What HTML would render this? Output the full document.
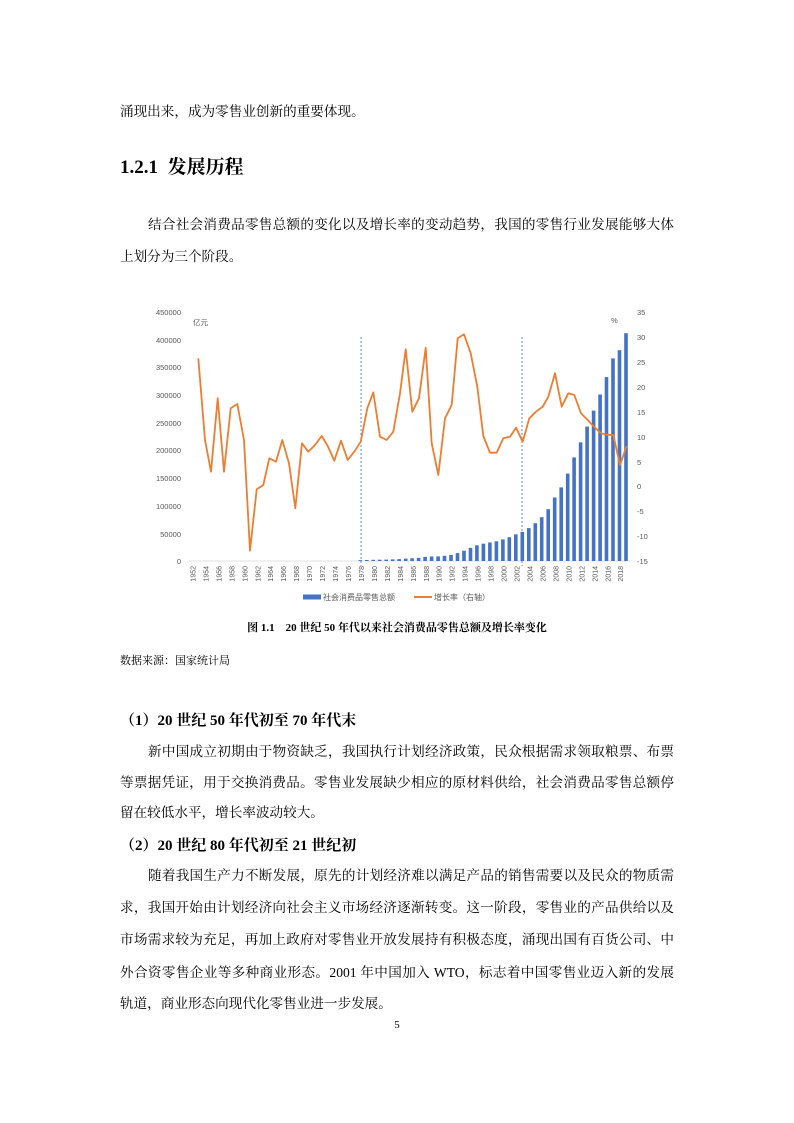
<!DOCTYPE html>
<html><head><meta charset="utf-8"><style>
body{margin:0;width:794px;height:1123px;background:#fff;position:relative;font-family:"Liberation Serif","Noto Serif CJK SC","Noto Sans CJK SC",serif;color:#000}
.l{position:absolute;left:120px;width:554px;font-size:13.6px;line-height:20px;white-space:nowrap}
.j{text-align:justify;text-align-last:justify}
.h{font-weight:bold}
</style></head><body>
<div class="l" style="top:102px">涌现出来，成为零售业创新的重要体现。</div>
<div class="l h" style="top:156px;font-size:19px;line-height:24px">1.2.1&nbsp; 发展历程</div>
<div class="l j" style="top:215px;padding-left:28px;width:526px">结合社会消费品零售总额的变化以及增长率的变动趋势，我国的零售行业发展能够大体</div>
<div class="l" style="top:247px">上划分为三个阶段。</div>

<svg style="position:absolute;left:0;top:0" width="794" height="620" font-family="Liberation Sans, Noto Sans CJK SC, sans-serif" font-size="7.5" fill="#595959">
<g text-anchor="end">
<text x="181" y="315">450000</text><text x="181" y="343">400000</text><text x="181" y="370">350000</text><text x="181" y="398">300000</text><text x="181" y="426">250000</text><text x="181" y="453">200000</text><text x="181" y="481">150000</text><text x="181" y="509">100000</text><text x="181" y="537">50000</text><text x="181" y="564">0</text>
</g>
<g text-anchor="start">
<text x="637" y="315">35</text><text x="637" y="340">30</text><text x="637" y="365">25</text><text x="637" y="390">20</text><text x="637" y="415">15</text><text x="637" y="440">10</text><text x="637" y="465">5</text><text x="637" y="489">0</text><text x="637" y="514">-5</text><text x="637" y="539">-10</text><text x="637" y="564">-15</text>
</g>
<text x="193" y="325">亿元</text><text x="611" y="323">%</text>
<line x1="189" y1="561" x2="630" y2="561" stroke="#d9d9d9" stroke-width="0.8"/>
<line x1="361" y1="337" x2="361" y2="566" stroke="#4472c4" stroke-width="0.8" stroke-dasharray="2,2"/>
<line x1="522" y1="337" x2="522" y2="566" stroke="#4472c4" stroke-width="0.8" stroke-dasharray="2,2"/>
<g fill="#4472c4">
<rect x="358.5" y="560.1" width="3.6" height="0.9"/><rect x="365.0" y="560" width="3.6" height="1"/><rect x="371.5" y="559.8" width="3.6" height="1.2"/><rect x="377.9" y="559.7" width="3.6" height="1.3"/><rect x="384.4" y="559.6" width="3.6" height="1.4"/><rect x="390.9" y="559.4" width="3.6" height="1.6"/><rect x="397.4" y="559.1" width="3.6" height="1.9"/><rect x="403.9" y="558.6" width="3.6" height="2.4"/><rect x="410.3" y="558.3" width="3.6" height="2.7"/><rect x="416.8" y="557.8" width="3.6" height="3.2"/><rect x="423.3" y="556.9" width="3.6" height="4.1"/><rect x="429.8" y="556.5" width="3.6" height="4.5"/><rect x="436.3" y="556.4" width="3.6" height="4.6"/><rect x="442.7" y="555.8" width="3.6" height="5.2"/><rect x="449.2" y="554.9" width="3.6" height="6.1"/><rect x="455.7" y="553.1" width="3.6" height="7.9"/><rect x="462.2" y="550.7" width="3.6" height="10.3"/><rect x="468.7" y="547.9" width="3.6" height="13.1"/><rect x="475.1" y="545.3" width="3.6" height="15.7"/><rect x="481.6" y="543.7" width="3.6" height="17.3"/><rect x="488.1" y="542.5" width="3.6" height="18.5"/><rect x="494.6" y="541.3" width="3.6" height="19.7"/><rect x="501.1" y="539.4" width="3.6" height="21.6"/><rect x="507.5" y="537.2" width="3.6" height="23.8"/><rect x="514.0" y="534.4" width="3.6" height="26.6"/><rect x="520.5" y="531.9" width="3.6" height="29.1"/><rect x="527.0" y="528.1" width="3.6" height="32.9"/><rect x="533.5" y="523.2" width="3.6" height="37.8"/><rect x="539.9" y="517.2" width="3.6" height="43.8"/><rect x="546.4" y="509.2" width="3.6" height="51.8"/><rect x="552.9" y="497.5" width="3.6" height="63.5"/><rect x="559.4" y="487.4" width="3.6" height="73.6"/><rect x="565.9" y="473.6" width="3.6" height="87.4"/><rect x="572.3" y="457.4" width="3.6" height="103.6"/><rect x="578.8" y="442.4" width="3.6" height="118.6"/><rect x="585.3" y="426.6" width="3.6" height="134.4"/><rect x="591.8" y="410.6" width="3.6" height="150.4"/><rect x="598.3" y="394.5" width="3.6" height="166.5"/><rect x="604.7" y="377.1" width="3.6" height="183.9"/><rect x="611.2" y="358.4" width="3.6" height="202.6"/><rect x="617.7" y="350.2" width="3.6" height="210.8"/><rect x="624.2" y="333.2" width="3.6" height="227.8"/>
</g>
<polyline fill="none" stroke="#ed7d31" stroke-width="1.8" stroke-linejoin="round" points="198.3,358.3 205,440 211,471.7 217.7,398.3 224,471.7 230.7,408.3 237.3,404 244,440 250,550.7 256.7,489.3 263.3,485 269.3,458.3 276,461.7 282.3,440 289,463.3 295.3,508.3 302,443.3 308.3,451.7 315,445 321.7,436 327.7,446 334.3,460.7 341,440.7 347.7,460 354.3,451.7 360.7,441.7 367.3,408.3 373.3,392.3 380,436.7 386.7,440 393.3,431.7 400,393.3 405.7,349.3 412.3,411.7 419,398.3 425.7,347.7 431.7,443.3 438.3,475 445,418.3 451.7,405 457.7,338.3 464,334.3 470.7,353.3 477.3,386.7 483.3,436 490,452.7 496.7,452.7 503.3,438.3 510,436.7 516,427.7 522.7,441.7 529.3,418.3 536,411.7 542.7,406.7 548.3,396.7 555,373.3 561.7,406.7 568.3,393.3 574.3,395 581,413.3 587.7,420 594,426.7 601,433.3 606.7,434.7 613.3,435 620,465 626.7,446"/>
<g text-anchor="end" font-size="7">
<text transform="translate(195.5,566) rotate(-90)">1952</text><text transform="translate(208.4,566) rotate(-90)">1954</text><text transform="translate(221.4,566) rotate(-90)">1956</text><text transform="translate(234.3,566) rotate(-90)">1958</text><text transform="translate(247.3,566) rotate(-90)">1960</text><text transform="translate(260.3,566) rotate(-90)">1962</text><text transform="translate(273.2,566) rotate(-90)">1964</text><text transform="translate(286.2,566) rotate(-90)">1966</text><text transform="translate(299.2,566) rotate(-90)">1968</text><text transform="translate(312.1,566) rotate(-90)">1970</text><text transform="translate(325.1,566) rotate(-90)">1972</text><text transform="translate(338,566) rotate(-90)">1974</text><text transform="translate(351,566) rotate(-90)">1976</text><text transform="translate(364,566) rotate(-90)">1978</text><text transform="translate(376.9,566) rotate(-90)">1980</text><text transform="translate(389.9,566) rotate(-90)">1982</text><text transform="translate(402.9,566) rotate(-90)">1984</text><text transform="translate(415.8,566) rotate(-90)">1986</text><text transform="translate(428.8,566) rotate(-90)">1988</text><text transform="translate(441.7,566) rotate(-90)">1990</text><text transform="translate(454.7,566) rotate(-90)">1992</text><text transform="translate(467.7,566) rotate(-90)">1994</text><text transform="translate(480.6,566) rotate(-90)">1996</text><text transform="translate(493.6,566) rotate(-90)">1998</text><text transform="translate(506.6,566) rotate(-90)">2000</text><text transform="translate(519.5,566) rotate(-90)">2002</text><text transform="translate(532.5,566) rotate(-90)">2004</text><text transform="translate(545.4,566) rotate(-90)">2006</text><text transform="translate(558.4,566) rotate(-90)">2008</text><text transform="translate(571.4,566) rotate(-90)">2010</text><text transform="translate(584.3,566) rotate(-90)">2012</text><text transform="translate(597.3,566) rotate(-90)">2014</text><text transform="translate(610.3,566) rotate(-90)">2016</text><text transform="translate(623.2,566) rotate(-90)">2018</text>
</g>
<rect x="303" y="594.5" width="18" height="5" fill="#4472c4"/>
<text x="323" y="600" font-size="8">社会消费品零售总额</text>
<line x1="414" y1="597" x2="432" y2="597" stroke="#ed7d31" stroke-width="2"/>
<text x="434" y="600" font-size="8">增长率（右轴）</text>
</svg>

<div class="l h" style="top:621px;left:0;width:794px;text-align:center;font-size:11px;line-height:14px">图 1.1&nbsp;&nbsp;&nbsp; 20 世纪 50 年代以来社会消费品零售总额及增长率变化</div>
<div class="l" style="top:654px;font-size:11px;line-height:14px">数据来源：国家统计局</div>

<div class="l h" style="top:711px;font-size:15px">（1）20 世纪 50 年代初至 70 年代末</div>
<div class="l j" style="top:742px;padding-left:28px;width:526px">新中国成立初期由于物资缺乏，我国执行计划经济政策，民众根据需求领取粮票、布票</div>
<div class="l j" style="top:773px">等票据凭证，用于交换消费品。零售业发展缺少相应的原材料供给，社会消费品零售总额停</div>
<div class="l" style="top:803px">留在较低水平，增长率波动较大。</div>
<div class="l h" style="top:836px;font-size:15px">（2）20 世纪 80 年代初至 21 世纪初</div>
<div class="l j" style="top:866px;padding-left:28px;width:526px">随着我国生产力不断发展，原先的计划经济难以满足产品的销售需要以及民众的物质需</div>
<div class="l j" style="top:898px">求，我国开始由计划经济向社会主义市场经济逐渐转变。这一阶段，零售业的产品供给以及</div>
<div class="l j" style="top:930px">市场需求较为充足，再加上政府对零售业开放发展持有积极态度，涌现出国有百货公司、中</div>
<div class="l j" style="top:963px">外合资零售企业等多种商业形态。2001 年中国加入 WTO，标志着中国零售业迈入新的发展</div>
<div class="l" style="top:994px">轨道，商业形态向现代化零售业进一步发展。</div>
<div class="l" style="top:1018px;left:0;width:794px;text-align:center;font-size:11px;line-height:14px">5</div>
</body></html>
